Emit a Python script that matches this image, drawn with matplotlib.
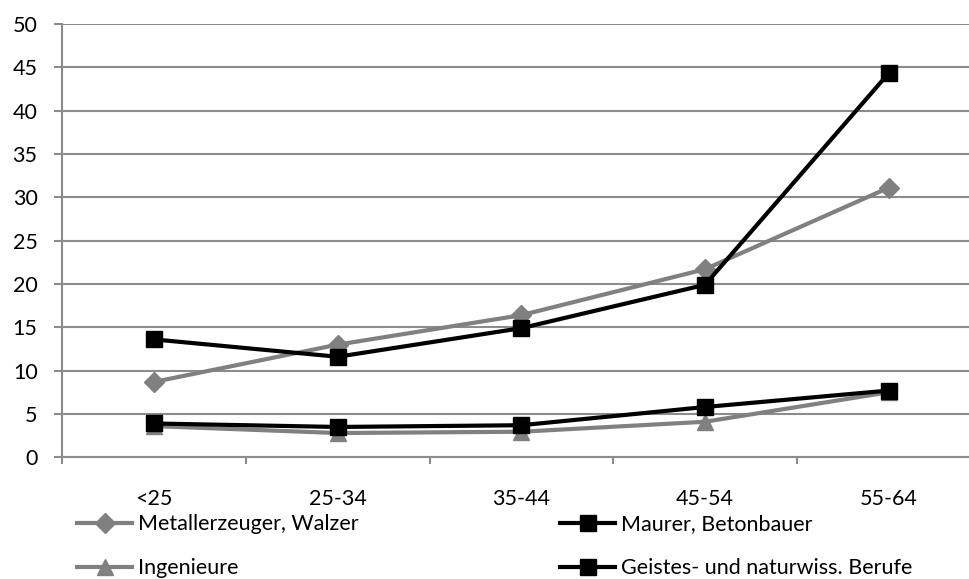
import numpy as np
import matplotlib
matplotlib.use("Agg")
import matplotlib.pyplot as plt

plt.rcParams["font.family"] = ["Lato", "DejaVu Sans"]

age_groups = ["<25", "25-34", "35-44", "45-54", "55-64"]
metall = [8.7, 13.0, 16.4, 21.7, 31.1]
maurer = [13.6, 11.6, 14.9, 19.9, 44.3]
ingenieure = [3.6, 2.8, 2.95, 4.1, 7.5]
geistes = [3.9, 3.5, 3.7, 5.8, 7.7]

gray = "#808080"
grid_col = "#8c8c8c"
fs = 15.5

fig = plt.figure(figsize=(9.69, 5.79), dpi=100)
# plot area runs past the right edge of the picture, like in the original
ax = fig.add_axes([0.0643, 0.2102, 0.9474, 0.7484])

x = np.arange(len(age_groups))
l1, = ax.plot(x, metall, color=gray, lw=3, marker="D", ms=10, label="Metallerzeuger, Walzer")
l3, = ax.plot(x, ingenieure, color=gray, lw=3, marker="^", ms=12, label="Ingenieure")
l2, = ax.plot(x, maurer, color="black", lw=3, marker="s", ms=12, label="Maurer, Betonbauer")
l4, = ax.plot(x, geistes, color="black", lw=3, marker="s", ms=12, label="Geistes- und naturwiss. Berufe")

ax.set_xlim(-0.5, 4.5)
ax.set_ylim(0, 50)
ax.set_yticks(np.arange(0, 51, 5))
ax.yaxis.grid(True, color=grid_col, lw=1.5)
ax.set_axisbelow(True)

ax.set_xticks(x)
ax.set_xticklabels(age_groups)
ax.set_xticks(np.arange(-0.5, 5, 1), minor=True)
ax.tick_params(axis="x", which="major", length=0, pad=23, labelsize=fs)
ax.tick_params(axis="x", which="minor", length=5, color=grid_col, width=1.5)
ax.tick_params(axis="y", length=5.8, color=grid_col, width=1.5, labelsize=fs, pad=12)

for s in ["top", "right"]:
    ax.spines[s].set_visible(False)
for s in ["left", "bottom"]:
    ax.spines[s].set_color(grid_col)
    ax.spines[s].set_linewidth(1.5)

leg_kw = dict(frameon=False, fontsize=fs, handlelength=2.56, handletextpad=0.28,
              labelspacing=1.1, borderaxespad=0, borderpad=0)
fig.legend(handles=[l1, l3], loc="upper left", bbox_to_anchor=(0.0795, 0.1115), **leg_kw)
fig.legend(handles=[l2, l4], loc="upper left", bbox_to_anchor=(0.578, 0.1115), **leg_kw)

fig.savefig("out.png", dpi=100)
